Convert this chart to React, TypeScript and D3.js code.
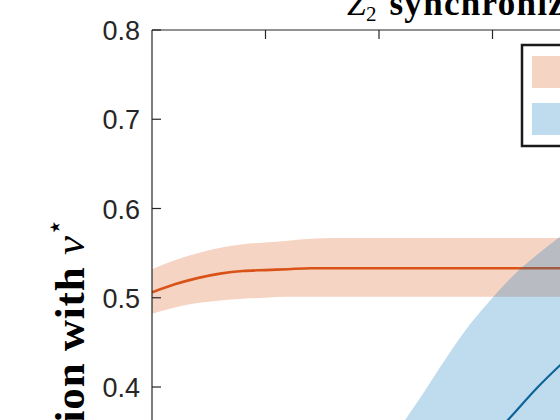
import * as d3 from "d3";

// x positions shared by the orange series
const orangeX = [0, 0.1, 0.2, 0.3, 0.4, 0.5, 0.6, 0.7, 0.8, 1.0, 1.2, 1.4, 1.6, 1.8, 2.0, 2.5, 3.0];
const orangeMean = [0.506, 0.515, 0.522, 0.527, 0.53, 0.531, 0.532, 0.533, 0.533, 0.533, 0.533, 0.533, 0.533, 0.533, 0.533, 0.533, 0.533];
const orangeUpper = [0.532, 0.542, 0.55, 0.556, 0.56, 0.562, 0.564, 0.566, 0.567, 0.567, 0.567, 0.567, 0.567, 0.567, 0.567, 0.567, 0.567];
const orangeLower = [0.482, 0.489, 0.494, 0.497, 0.499, 0.5, 0.501, 0.501, 0.501, 0.501, 0.501, 0.501, 0.501, 0.501, 0.501, 0.501, 0.501];

// blue series
const blueX = [0.8, 0.9, 1.0, 1.1, 1.2, 1.3, 1.4, 1.5, 1.6, 1.7, 1.8, 1.9, 2.0];
const blueMean = [0.0, 0.03, 0.09, 0.15, 0.21, 0.26, 0.305, 0.343, 0.372, 0.4, 0.425, 0.448, 0.47];
const blueUpper = [0.2, 0.26, 0.315, 0.357, 0.395, 0.434, 0.47, 0.5, 0.527, 0.549, 0.569, 0.588, 0.606];
const blueLower = [0, 0, 0, 0, 0.015, 0.08, 0.14, 0.186, 0.217, 0.25, 0.278, 0.304, 0.33];

const yTicks = [0.4, 0.5, 0.6, 0.7, 0.8];
const xTicks = [0.5, 1, 1.5, 2, 2.5];

const W = 560;
const H = 420;

export default function App() {
  const x = d3.scaleLinear().domain([0, 3]).range([152, 833]);
  const y = d3.scaleLinear().domain([0, 0.8]).range([744, 30]);

  const band = (xs: number[], lo: number[], hi: number[]) =>
    d3
      .area<number>()
      .x((_, i) => x(xs[i]))
      .y0((_, i) => y(lo[i]))
      .y1((_, i) => y(hi[i]))
      .curve(d3.curveMonotoneX)(xs) || "";

  const line = (xs: number[], ys: number[]) =>
    d3
      .line<number>()
      .x((_, i) => x(xs[i]))
      .y((_, i) => y(ys[i]))
      .curve(d3.curveMonotoneX)(xs) || "";

  const axisColor = "#262626";

  return (
    <svg
      width={W}
      height={H}
      style={{ position: "absolute", left: 0, top: 0, background: "#fff" }}
    >
      <defs>
        <clipPath id="plot">
          <rect x={x(0)} y={y(0.8)} width={x(3) - x(0)} height={y(0) - y(0.8)} />
        </clipPath>
      </defs>

      <g clipPath="url(#plot)">
        <path d={band(orangeX, orangeLower, orangeUpper)} fill="#f6d4c4" />
        <path d={line(orangeX, orangeMean)} fill="none" stroke="#d95319" strokeWidth={2.6} />
        <path d={band(blueX, blueLower, blueUpper)} fill="#0072bd" fillOpacity={0.25} />
        <path d={line(blueX, blueMean)} fill="none" stroke="#0e6498" strokeWidth={2.2} />
      </g>

      {/* axes box */}
      <line x1={x(0)} x2={x(3)} y1={y(0.8)} y2={y(0.8)} stroke={axisColor} strokeWidth={1.2} />
      <line x1={x(0)} x2={x(0)} y1={y(0.8)} y2={y(0)} stroke={axisColor} strokeWidth={1.2} />
      {xTicks.map((t) => (
        <line key={t} x1={x(t)} x2={x(t)} y1={y(0.8)} y2={y(0.8) + 9} stroke={axisColor} strokeWidth={1.2} />
      ))}
      {yTicks.map((t) => (
        <g key={t}>
          <line x1={x(0)} x2={x(0) + 9} y1={y(t)} y2={y(t)} stroke={axisColor} strokeWidth={1.2} />
          <text
            x={140}
            y={y(t) + 10}
            textAnchor="end"
            fontFamily="'Liberation Sans', Arial, sans-serif"
            fontSize={27}
            fill={axisColor}
          >
            {t.toFixed(1)}
          </text>
        </g>
      ))}

      {/* title */}
      <text x={347} y={15} fontFamily="'Liberation Serif', serif" fill="#000">
        <tspan fontStyle="italic" fontSize={34}>Z</tspan>
        <tspan fontSize={21} dy={6}>2</tspan>
        <tspan fontWeight="bold" fontSize={35} dx={13} dy={-6} letterSpacing={1.3}>synchronization</tspan>
      </text>

      {/* y label */}
      <text
        transform="translate(84,218) rotate(-90)"
        textAnchor="end"
        fontFamily="'Liberation Serif', serif"
        fontSize={43}
        fill="#000"
      >
        <tspan fontWeight="bold" letterSpacing={0.8}>Correlation with </tspan>
        <tspan fontStyle="italic">v</tspan>
        <tspan fontSize={28} dy={-20}>⋆</tspan>
      </text>

      {/* legend */}
      <rect x={522} y={45} width={300} height={101} fill="#fff" stroke="#1a1a1a" strokeWidth={2.5} />
      <rect x={532} y={56} width={60} height={32} fill="#f6d4c4" />
      <rect x={532} y={103} width={60} height={32} fill="#0072bd" fillOpacity={0.25} />
    </svg>
  );
}
